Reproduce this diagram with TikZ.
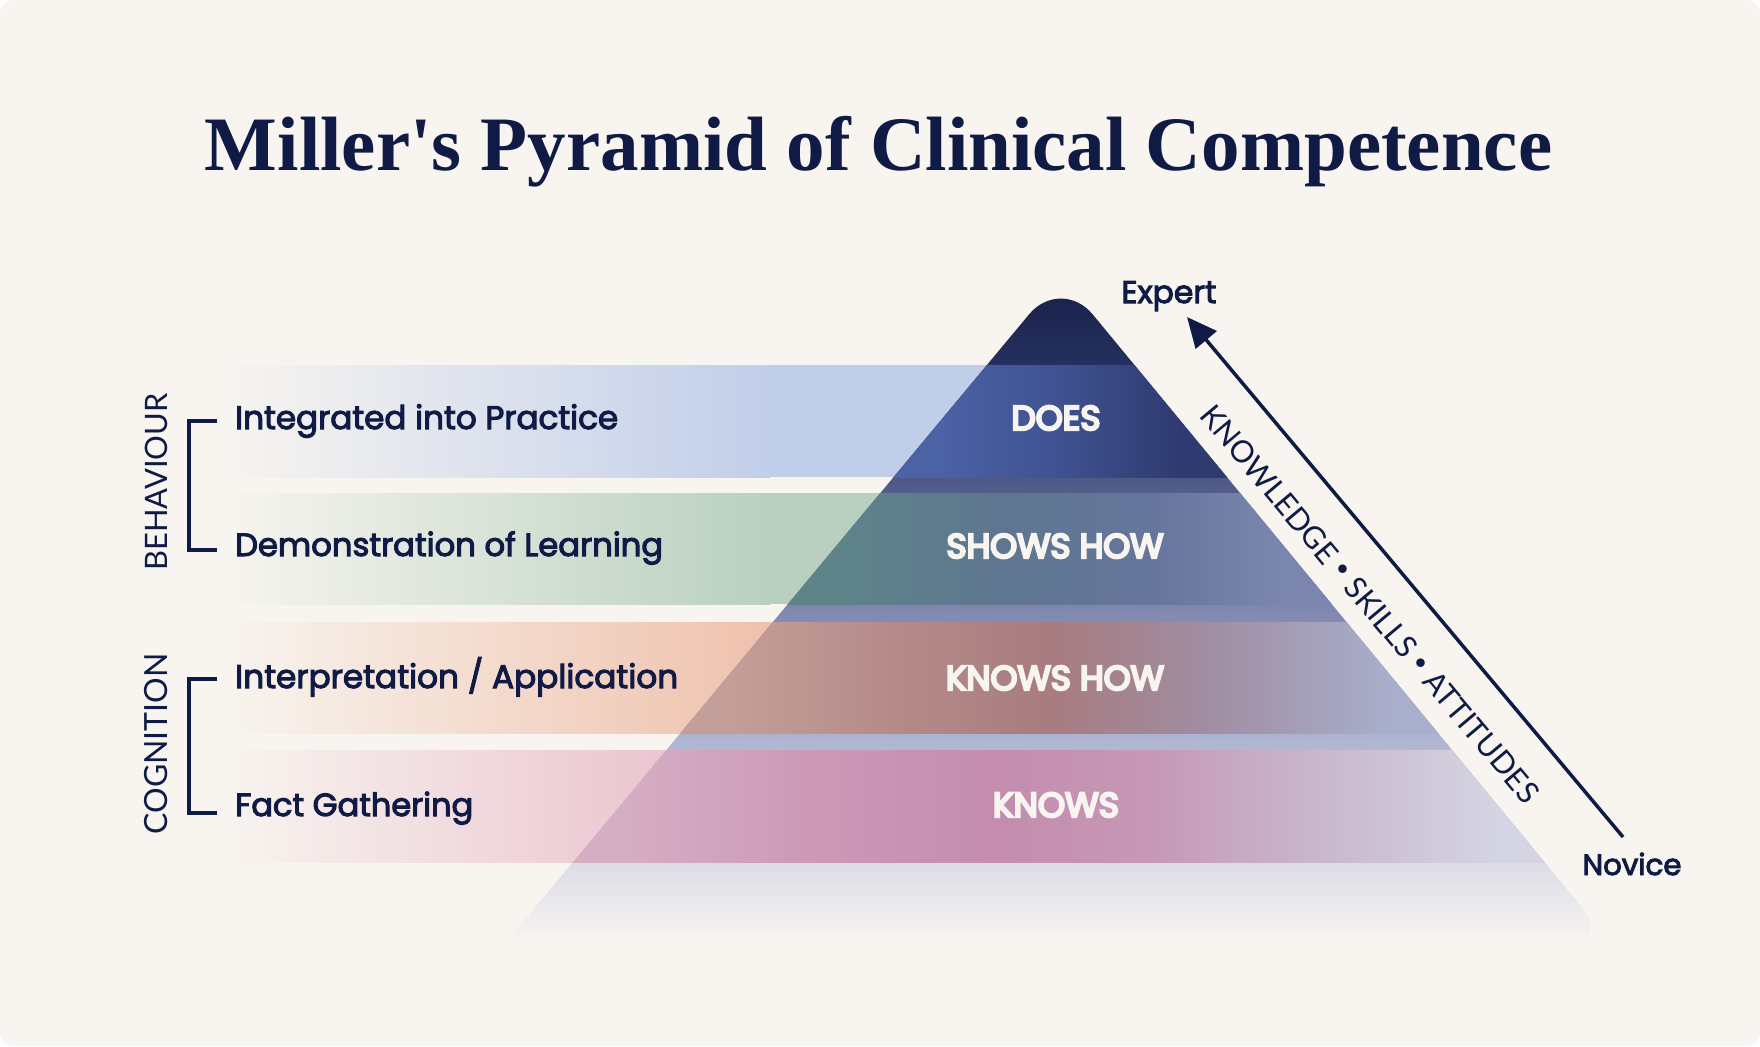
\documentclass[tikz,border=0pt]{standalone}
\usepackage{fontspec}
\usetikzlibrary{arrows.meta}
\setmainfont{Lato}
\newfontfamily\titlefont{Liberation Serif}
\newfontfamily\popm{Poppins}[FakeBold=3.2]
\newfontfamily\popb{Poppins}[FakeBold=7]
\definecolor{bg}{HTML}{F8F5F0}
\definecolor{navy}{HTML}{0F1B45}
% outside band colours
\definecolor{bone}{HTML}{C1CEEA}
\definecolor{btwo}{HTML}{B9D0C0}
\definecolor{bthree}{HTML}{EFC1AC}
\definecolor{bfour}{HTML}{E8BAC8}
% pyramid vertical colours
\definecolor{pa}{HTML}{161F47}
\definecolor{pb}{HTML}{25305E}
\definecolor{pc}{HTML}{515B89}
\definecolor{pd}{HTML}{8189B0}
\definecolor{pe}{HTML}{AEB5D0}
\definecolor{pf}{HTML}{DCDCE6}
% inside band colours
\definecolor{ia}{HTML}{4B62A5}
\definecolor{ib}{HTML}{3F5190}
\definecolor{ic}{HTML}{2F3B70}
\definecolor{ja}{HTML}{5E8489}
\definecolor{jb}{HTML}{5E7690}
\definecolor{jc}{HTML}{66759C}
\definecolor{jd}{HTML}{7A86AE}
\definecolor{ka}{HTML}{C49E98}
\definecolor{kb}{HTML}{B48A88}
\definecolor{kc}{HTML}{A87C80}
\definecolor{kd}{HTML}{A08CA0}
\definecolor{ke}{HTML}{A8AECB}
\definecolor{ma}{HTML}{D6AEC4}
\definecolor{mb}{HTML}{CC9AB8}
\definecolor{mc}{HTML}{C48CAE}
\definecolor{md}{HTML}{C698B6}
\definecolor{me}{HTML}{C8B4CA}
\definecolor{mf}{HTML}{D4D4E2}

\pgfdeclareverticalshading{pyrshade}{100bp}{color(0bp)=(bg); color(25bp)=(bg); color(31.2bp)=(pf); color(40.25bp)=(pe); color(49.81bp)=(pd); color(59.38bp)=(pc); color(68.35bp)=(pb); color(75bp)=(pa); color(100bp)=(pa)}
\pgfdeclarehorizontalshading{bandone}{100bp}{color(0bp)=(ia); color(44.64bp)=(ia); color(50bp)=(ib); color(55.36bp)=(ic); color(100bp)=(ic)}
\pgfdeclarehorizontalshading{bandtwo}{100bp}{color(0bp)=(ja); color(39.91bp)=(ja); color(47.32bp)=(jb); color(54.02bp)=(jc); color(60bp)=(jd); color(100bp)=(jd)}
\pgfdeclarehorizontalshading{bandthree}{100bp}{color(0bp)=(ka); color(35.22bp)=(ka); color(42.86bp)=(kb); color(49.55bp)=(kc); color(56.25bp)=(kd); color(64.64bp)=(ke); color(100bp)=(ke)}
\pgfdeclarehorizontalshading{bandfour}{100bp}{color(0bp)=(ma); color(30.4bp)=(ma); color(38.39bp)=(mb); color(47.32bp)=(mc); color(54.02bp)=(md); color(60.71bp)=(me); color(69.51bp)=(mf); color(100bp)=(mf)}

\newcommand{\fitw}[2]{\resizebox{#1pt}{!}{#2}}
\newcommand{\sdot}{\raisebox{0.35ex}{\scalebox{0.75}{\textbullet}}}

\tikzset{
  lbl/.style={anchor=base west, inner sep=0pt, text=navy, font=\popm\fontsize{33}{38}\selectfont},
  plbl/.style={anchor=base, inner sep=0pt, text=bg, font=\popb\fontsize{30}{34}\selectfont},
  side/.style={inner sep=0pt, text=navy, font=\fontsize{31}{36}\selectfont},
  ksastyle/.style={inner sep=0pt, text=navy, font=\fontsize{30}{36}\selectfont},
  endlbl/.style={anchor=base, inner sep=0pt, text=navy, font=\popm\fontsize{27}{32}\selectfont},
  brk/.style={draw=navy, line width=3.5pt},
  arrowline/.style={draw=navy, line width=3.5pt, -{Triangle[length=30pt,width=27pt]}},
}

\begin{document}
\begin{tikzpicture}[x=1pt,y=-1pt]
\useasboundingbox (0,0) rectangle (1760,1046);
\fill[white] (0,0) rectangle (1760,1046);
\fill[bg, rounded corners=14pt] (0,0) rectangle (1760,1046);

% title
\node[anchor=base, inner sep=0pt, text=navy] (title) at (878.5,170)
  {\titlefont\bfseries\fontsize{74}{80}\selectfont\resizebox{1347pt}{!}{Miller\textquotesingle s Pyramid of Clinical Competence}};

% bands (outside pyramid)
\shade[left color=bg, right color=bone] (215,365) rectangle (770,477);
\fill[bone] (769,365) rectangle (1062,477);
\shade[left color=bg, right color=btwo] (215,493) rectangle (770,604);
\fill[btwo] (769,493) rectangle (1062,604);
\shade[left color=bg, right color=bthree] (215,622) rectangle (770,733);
\fill[bthree] (769,622) rectangle (1062,733);
\shade[left color=bg, right color=bfour] (215,750) rectangle (770,862);
\fill[bfour] (769,750) rectangle (1062,862);

% pyramid
\begin{scope}
  \clip (504,945) [rounded corners=50pt] -- (1061,276) -- (1613,945) [sharp corners] -- cycle;
  \shade[shading=pyrshade] (480,276) rectangle (1640,945);
  \shade[shading=bandone] (500,365) rectangle (1620,477);
  \shade[shading=bandtwo] (500,493) rectangle (1620,604);
  \shade[shading=bandthree] (500,622) rectangle (1620,733);
  \shade[shading=bandfour] (500,750) rectangle (1620,862);
\end{scope}

% left labels
\node[lbl] (l1) at (235,429) {\fitw{383}{Integrated into Practice}};
\node[lbl] (l2) at (235,556) {\fitw{428}{Demonstration of Learning}};
\node[lbl] (l3) at (235,688) {\fitw{443}{Interpretation / Application}};
\node[lbl] (l4) at (235,816) {\fitw{238}{Fact Gathering}};

% pyramid labels
\node[plbl] (p1) at (1056,430) {\fitw{89}{DOES}};
\node[plbl] (p2) at (1055,558) {\fitw{217}{SHOWS HOW}};
\node[plbl] (p3) at (1055,690) {\fitw{218}{KNOWS HOW}};
\node[plbl] (p4) at (1056,817) {\fitw{126}{KNOWS}};

% brackets
\coordinate (br1top) at (217,421);
\coordinate (br1bot) at (217,550);
\coordinate (br2top) at (217,679);
\coordinate (br2bot) at (217,813);
\draw[brk] (br1top) -- ++(-28,0) |- (br1bot);
\draw[brk] (br2top) -- ++(-28,0) |- (br2bot);

\node[side, rotate=90] (beh) at (156,482) {\fitw{177}{BEHAVIOUR}};
\node[side, rotate=90] (cog) at (156,744) {\fitw{181}{COGNITION}};

% expert / novice
\node[endlbl] (expert) at (1169,303) {\fitw{95}{Expert}};
\node[endlbl] (novice) at (1632,875) {\fitw{99}{Novice}};
\coordinate (atail) at (1623,837);
\coordinate (ahead) at (1187,317);
\draw[arrowline] (atail) -- (ahead);

\node[ksastyle, rotate=-50] (ksa) at (1370,604) {\fitw{508}{KNOWLEDGE \sdot{} SKILLS \sdot{} ATTITUDES}};
\end{tikzpicture}
\end{document}
